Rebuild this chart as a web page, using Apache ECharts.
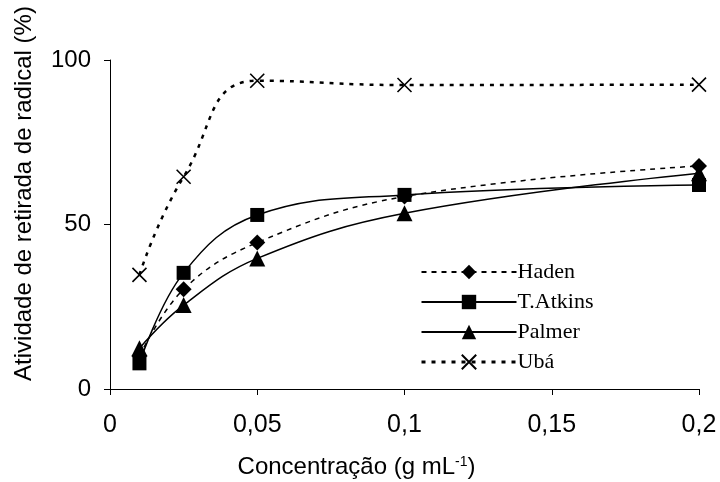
<!DOCTYPE html>
<html>
<head>
<meta charset="utf-8">
<script src="https://cdn.jsdelivr.net/npm/echarts@6/dist/echarts.min.js"></script>
<style>
  html, body { margin: 0; padding: 0; background: #fff; }
  #chart { width: 720px; height: 482px; }
</style>
</head>
<body>
<div id="chart"></div>
<script>
// Concentrations (g/mL) and radical scavenging activity (%) per cultivar
const concentrations = [0.01, 0.025, 0.05, 0.1, 0.2];
const haden    = [10, 30.3, 44.5, 58.5, 67.8];
const tAtkins  = [7.8, 35.3, 52.9, 59, 62];
const palmer   = [12.4, 25.5, 39.7, 53.4, 65.6];
const uba      = [34.7, 64.5, 93.7, 92.4, 92.5];
const xTicks = [0, 0.05, 0.1, 0.15, 0.2];
const yTicks = [0, 50, 100];

const pair = arr => concentrations.map((c, i) => [c, arr[i]]);
const crossPath = 'path://M0,0L10,10M10,0L0,10';

const chart = echarts.init(document.getElementById('chart'));
chart.setOption({
  animation: false,
  backgroundColor: '#fff',
  grid: { left: 110, right: 21, top: 60, bottom: 93, outerBoundsMode: 'none', containLabel: false },
  legend: {
    orient: 'vertical',
    left: 415,
    top: 256,
    itemWidth: 95,
    itemHeight: 18,
    itemGap: 8,
    textStyle: { fontFamily: 'Liberation Serif', fontSize: 22, color: '#000', padding: [0, 0, 0, -4] },
    data: [
      { name: 'Haden' },
      { name: 'T.Atkins' },
      { name: 'Palmer' },
      { name: 'Ubá', lineStyle: { width: 3, type: [4, 6] } }
    ]
  },
  xAxis: {
    type: 'value',
    min: 0, max: 0.2, interval: 0.05,
    name: 'Concentração (g mL{sup|-1})',
    nameLocation: 'middle',
    nameGap: 66,
    nameTextStyle: {
      fontFamily: 'Liberation Sans', fontSize: 24, color: '#000', padding: [0, 96, 0, 0],
      rich: { sup: { fontFamily: 'Liberation Sans', fontSize: 14, verticalAlign: 'top', padding: [0, 0, 11, 0] } }
    },
    axisLine: { lineStyle: { color: '#000', width: 1 } },
    axisTick: { show: true, length: 6, lineStyle: { color: '#000' } },
    axisLabel: {
      fontFamily: 'Liberation Sans', fontSize: 25, color: '#000', margin: 24,
      formatter: v => {
        const t = xTicks.find(x => Math.abs(x - v) < 1e-9);
        return t === undefined ? '' : String(t).replace('.', ',');
      }
    },
    splitLine: { show: false }
  },
  yAxis: {
    type: 'value',
    min: 0, max: 100, interval: 50,
    name: 'Atividade de retirada de radical (%)',
    nameLocation: 'middle',
    nameGap: 74,
    nameTextStyle: { fontFamily: 'Liberation Sans', fontSize: 24, color: '#000', padding: [0, 0, 0, 62] },
    axisLine: { show: true, lineStyle: { color: '#000', width: 1 } },
    axisTick: { show: true, length: 6, lineStyle: { color: '#000' } },
    axisLabel: {
      fontFamily: 'Liberation Sans', fontSize: 24, color: '#000', margin: 19,
      formatter: v => yTicks.includes(v) ? String(v) : ''
    },
    splitLine: { show: false }
  },
  series: [
    {
      name: 'Haden', type: 'line', smooth: 0.4,
      data: pair(haden),
      symbol: 'diamond', symbolSize: 16,
      itemStyle: { color: '#000' },
      lineStyle: { color: '#000', width: 1.5, type: [5, 5] },
      z: 3
    },
    {
      name: 'T.Atkins', type: 'line', smooth: 0.4,
      data: pair(tAtkins),
      symbol: 'rect', symbolSize: 14,
      itemStyle: { color: '#000' },
      lineStyle: { color: '#000', width: 1.5, type: 'solid' },
      z: 4
    },
    {
      name: 'Palmer', type: 'line', smooth: 0.4,
      data: pair(palmer),
      symbol: 'triangle', symbolSize: 16,
      itemStyle: { color: '#000' },
      lineStyle: { color: '#000', width: 1.5, type: 'solid' },
      z: 5
    },
    {
      name: 'Ubá', type: 'line', smooth: 0.5,
      data: pair(uba),
      symbol: crossPath, symbolSize: 14,
      itemStyle: { color: 'rgba(0,0,0,0)', borderColor: '#000', borderWidth: 1.6 },
      lineStyle: { color: '#000', width: 2.5, type: [4, 6] },
      z: 2
    }
  ]
});
</script>
</body>
</html>
